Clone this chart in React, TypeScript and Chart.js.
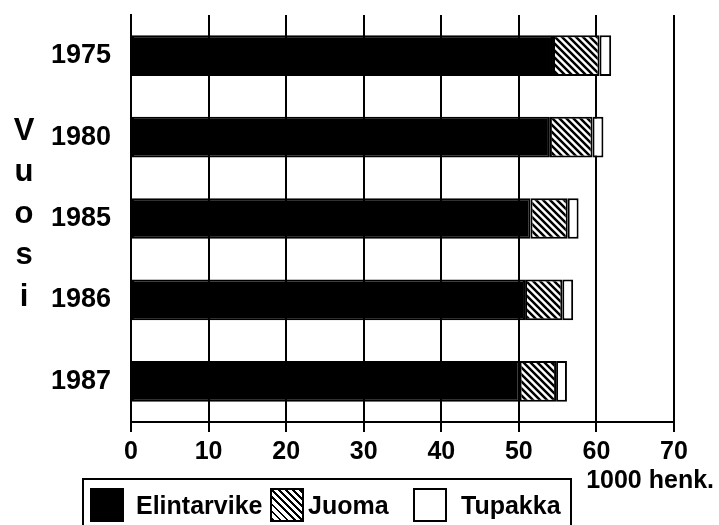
import React, { useEffect, useRef } from "react";
import { Chart, registerables } from "chart.js";

Chart.register(...registerables);

const years = ["1975", "1980", "1985", "1986", "1987"];
const elintarvike = [54.4, 54.0, 51.5, 50.8, 50.1];
const juoma = [6.0, 5.5, 4.8, 4.8, 4.7];
const tupakka = [1.5, 1.4, 1.4, 1.4, 1.4];
const xTicks = [0, 10, 20, 30, 40, 50, 60, 70];
const axisTitleLetters = ["V", "u", "o", "s", "i"];
const unitLabel = "1000 henk.";
const legendLabels = ["Elintarvike", "Juoma", "Tupakka"];

const FONT = "'Liberation Sans', Arial, Helvetica, sans-serif";

function makeHatch(): CanvasPattern | string {
  const s = 7;
  const c = document.createElement("canvas");
  c.width = s;
  c.height = s;
  const g = c.getContext("2d");
  if (!g) return "#888";
  g.fillStyle = "#fff";
  g.fillRect(0, 0, s, s);
  g.strokeStyle = "#000";
  g.lineWidth = 2.5;
  g.beginPath();
  for (let k = -1; k <= 1; k++) {
    g.moveTo(k * s - 1, -1);
    g.lineTo(k * s + s + 1, s + 1);
  }
  g.stroke();
  return g.createPattern(c, "repeat") as CanvasPattern;
}

export default function App() {
  const ref = useRef<HTMLCanvasElement>(null);

  useEffect(() => {
    if (!ref.current) return;
    const hatch = makeHatch();
    const chart = new Chart(ref.current, {
      type: "bar",
      data: {
        labels: years,
        datasets: [
          { label: legendLabels[0], data: elintarvike, backgroundColor: "#000", borderColor: "#000", borderWidth: 2, borderSkipped: false },
          { label: legendLabels[1], data: juoma, backgroundColor: hatch as any, borderColor: "#000", borderWidth: 2, borderSkipped: false },
          { label: legendLabels[2], data: tupakka, backgroundColor: "#fff", borderColor: "#000", borderWidth: 2, borderSkipped: false },
        ],
      },
      options: {
        indexAxis: "y",
        animation: false,
        responsive: true,
        maintainAspectRatio: false,
        layout: { padding: { top: 15, right: 45, left: 0, bottom: 0 } },
        plugins: { legend: { display: false }, tooltip: { enabled: false } },
        datasets: { bar: { barPercentage: 0.5, categoryPercentage: 1 } },
        scales: {
          x: {
            stacked: true,
            min: 0,
            max: 70,
            afterBuildTicks: (s: any) => {
              s.ticks = xTicks.map((v) => ({ value: v }));
            },
            afterFit: (s: any) => {
              s.height = 103;
              s.paddingLeft = 0;
              s.paddingRight = 0;
            },
            grid: { display: true, color: "#000", lineWidth: 2, drawTicks: true, tickLength: 10, tickColor: "#000", tickWidth: 2 },
            border: { display: true, color: "#000", width: 2 },
            ticks: { color: "#000", font: { family: FONT, size: 25, weight: "bold" }, padding: 5, maxRotation: 0, autoSkip: false },
          },
          y: {
            stacked: true,
            afterFit: (s: any) => {
              s.width = 131;
              s.paddingTop = 0;
              s.paddingBottom = 0;
            },
            grid: { display: false, drawTicks: false },
            border: { display: true, color: "#000", width: 2 },
            ticks: { color: "#000", font: { family: FONT, size: 27, weight: "bold" }, padding: 20 },
          },
        },
      },
    });
    return () => chart.destroy();
  }, []);

  const letterTops = [112, 153, 195, 236, 278];

  const sq = (left: number, bg: string): React.CSSProperties => ({
    position: "absolute",
    left,
    top: 8,
    width: 34,
    height: 34,
    boxSizing: "border-box",
    border: "2px solid #000",
    background: bg,
  });
  const txt = (left: number): React.CSSProperties => ({
    position: "absolute",
    left,
    top: 7,
    fontSize: 25,
    fontWeight: "bold",
    lineHeight: "36px",
    color: "#000",
    whiteSpace: "nowrap",
  });

  return (
    <div
      style={{
        position: "absolute",
        left: 0,
        top: 0,
        width: 719,
        height: 525,
        overflow: "hidden",
        background: "#fff",
        fontFamily: FONT,
      }}
    >
      <canvas ref={ref} style={{ position: "absolute", left: 0, top: 0, width: 719, height: 525 }} />
      {axisTitleLetters.map((ch, i) => (
        <div
          key={i}
          style={{ position: "absolute", left: 10, top: letterTops[i], width: 28, textAlign: "center", fontSize: 31, fontWeight: "bold", lineHeight: "36px", color: "#000" }}
        >
          {ch}
        </div>
      ))}
      <div style={{ position: "absolute", right: 5, top: 464, fontSize: 25, fontWeight: "bold", lineHeight: "30px", color: "#000", whiteSpace: "nowrap" }}>
        {unitLabel}
      </div>
      <div
        style={{
          position: "absolute",
          left: 82,
          top: 478,
          width: 490,
          height: 70,
          boxSizing: "border-box",
          border: "2px solid #000",
        }}
      >
        <div style={sq(6, "#000")} />
        <div style={txt(52)}>{legendLabels[0]}</div>
        <div style={sq(186, "repeating-linear-gradient(45deg, #000 0px, #000 2px, #fff 2px, #fff 5px)")} />
        <div style={txt(224)}>{legendLabels[1]}</div>
        <div style={sq(329, "#fff")} />
        <div style={txt(377)}>{legendLabels[2]}</div>
      </div>
    </div>
  );
}
